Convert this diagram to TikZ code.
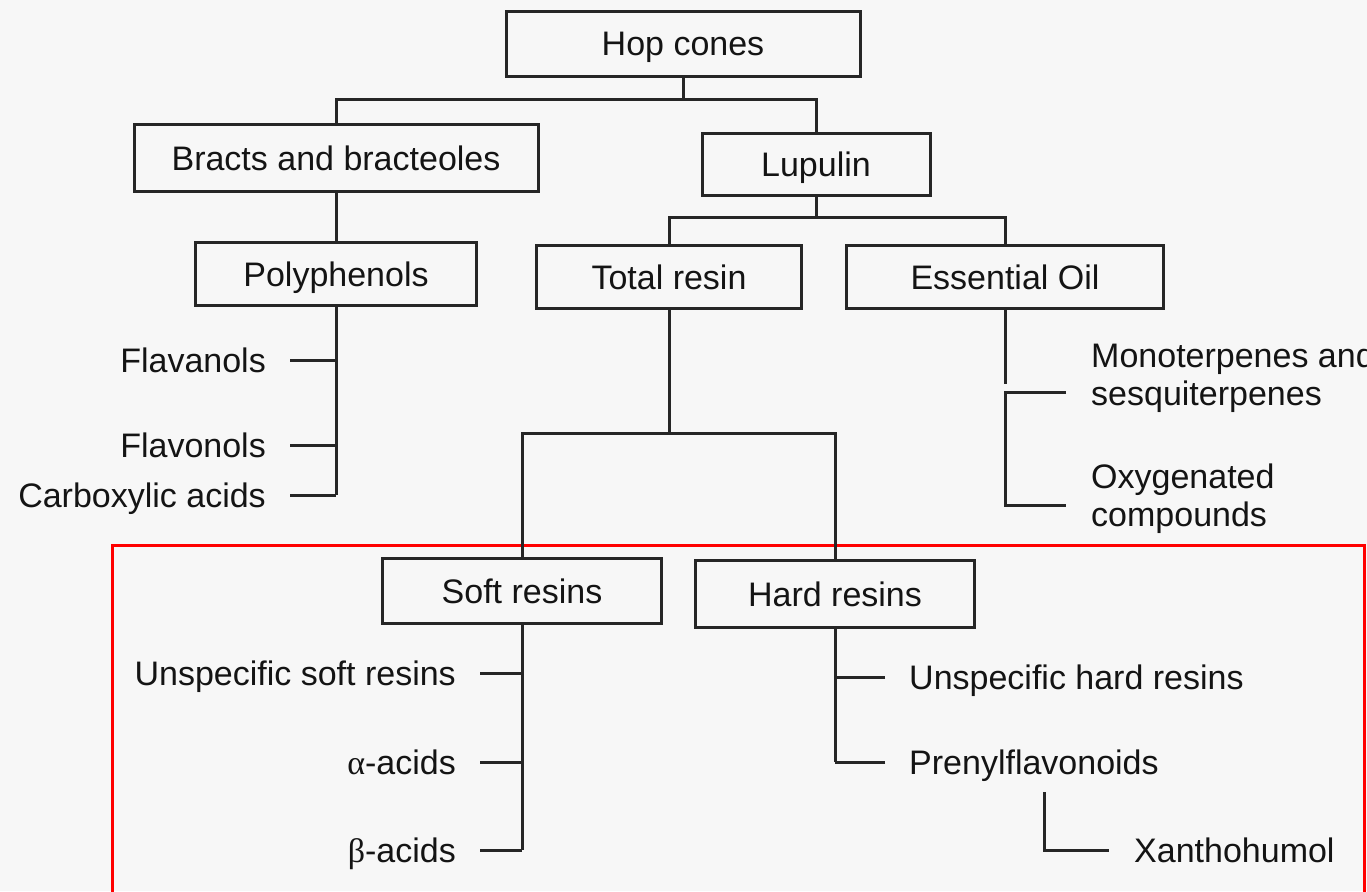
\documentclass[tikz,border=0pt]{standalone}
\usepackage{fontspec}
\setmainfont{Liberation Sans}
\newfontfamily\grkfont{Liberation Serif}
\begin{document}
\begin{tikzpicture}[x=1pt,y=-1pt,
  every node/.style={font=\fontsize{34}{38}\selectfont, text=black!92},
  box/.style={draw=black!85, line width=3pt, inner sep=0pt, text height=26pt, text depth=2pt},
  conn/.style={draw=black!85, line width=3pt},
  leafl/.style={anchor=east, inner xsep=24pt, inner ysep=0pt, text height=26pt, text depth=2pt},
  leafr/.style={anchor=west, inner xsep=24pt, inner ysep=0pt, align=left},
  redframe/.style={draw=red, line width=3pt}]
\useasboundingbox (0,0) rectangle (1367,891);
\fill[black!3] (0,0) rectangle (1367,891);
\draw[redframe] (112,545) rectangle (1364,905);
% boxes
\node[box, minimum width=354pt, minimum height=64pt] (hop) at (683,44) {Hop cones};
\node[box, minimum width=404pt, minimum height=67pt] (bracts) at (336,158) {Bracts and bracteoles};
\node[box, minimum width=228pt, minimum height=62pt] (lupulin) at (816,164) {Lupulin};
\node[box, minimum width=281pt, minimum height=63pt] (poly) at (336,274) {Polyphenols};
\node[box, minimum width=265pt, minimum height=63pt] (total) at (669,277) {Total resin};
\node[box, minimum width=317pt, minimum height=63pt] (eo) at (1005,277) {Essential Oil};
\node[box, minimum width=279pt, minimum height=65pt] (soft) at (522,591) {Soft resins};
\node[box, minimum width=279pt, minimum height=67pt] (hard) at (835,594) {Hard resins};
% leaves
\node[leafl] (flavan) at (290,360) {Flavanols};
\node[leafl] (flavon) at (290,445) {Flavonols};
\node[leafl] (carb) at (290,495) {Carboxylic acids};
\node[leafr, inner xsep=25pt] (mono) at (1066,378) {Monoterpenes and\\sesquiterpenes};
\node[leafr, inner xsep=25pt] (oxy) at (1066,499) {Oxygenated\\compounds};
\node[leafl] (usoft) at (480,673) {Unspecific soft resins};
\node[leafl] (alpha) at (480,762) {{\grkfont α}-acids};
\node[leafl] (beta) at (480,850) {{\grkfont β}-acids};
\node[leafr, text height=26pt, text depth=2pt] (uhard) at (885,677) {Unspecific hard resins};
\node[leafr, text height=26pt, text depth=2pt] (pren) at (885,762) {Prenylflavonoids};
\node[leafr, inner xsep=25pt, text height=26pt, text depth=2pt] (xan) at (1109,850) {Xanthohumol};
% junctions
\coordinate (j1) at (683,99);
\coordinate (j2) at (816,217);
\coordinate (j3) at (669,433);
\coordinate (eoend) at (1005,384);
\coordinate (brtop) at (1005,392);
\coordinate (brbot) at (1005,505);
\coordinate (xtop) at (1044,792);
% connectors
\draw[conn] (hop.south) -- (j1);
\draw[conn] (bracts.north) |- (j1) -| (lupulin.north);
\draw[conn] (bracts.south) -- (poly.north);
\draw[conn] (lupulin.south) -- (j2);
\draw[conn] (total.north) |- (j2) -| (eo.north);
\draw[conn] (poly.south) -- (poly.south |- carb.east);
\draw[conn] (flavan.east) -- (flavan.east -| poly.south);
\draw[conn] (flavon.east) -- (flavon.east -| poly.south);
\draw[conn] (carb.east) -- (carb.east -| poly.south);
\draw[conn] (eo.south) -- (eoend);
\draw[conn] (mono.west |- brtop) -- (brtop) -- (brbot) -- (oxy.west |- brbot);
\draw[conn] (total.south) -- (j3);
\draw[conn] (soft.north) |- (j3) -| (hard.north);
\draw[conn] (soft.south) -- (soft.south |- beta.east);
\draw[conn] (usoft.east) -- (usoft.east -| soft.south);
\draw[conn] (alpha.east) -- (alpha.east -| soft.south);
\draw[conn] (beta.east) -- (beta.east -| soft.south);
\draw[conn] (hard.south) -- (hard.south |- pren.west);
\draw[conn] (uhard.west) -- (uhard.west -| hard.south);
\draw[conn] (pren.west) -- (pren.west -| hard.south);
\draw[conn] (xtop) |- (xan.west);
\end{tikzpicture}
\end{document}
